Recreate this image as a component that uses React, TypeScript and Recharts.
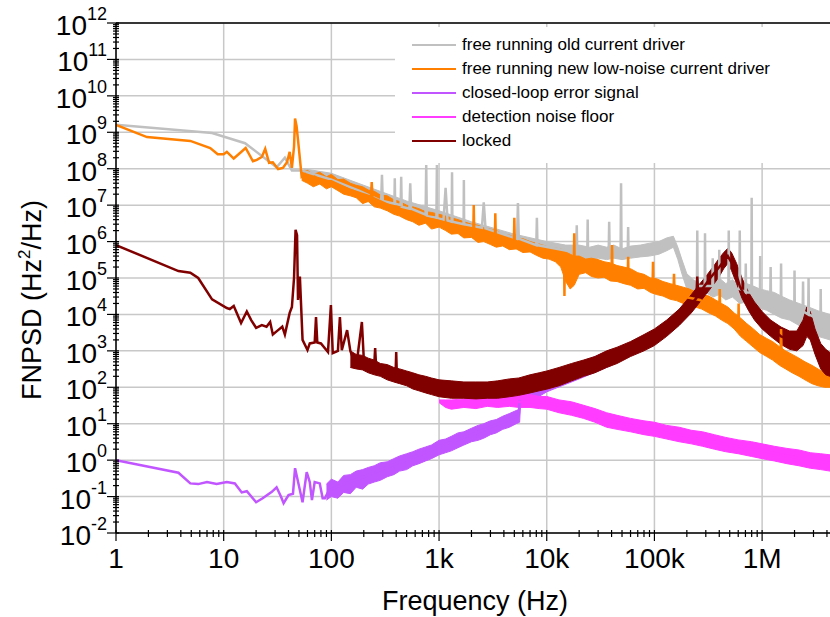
import { ComposedChart, Line, Area, XAxis, YAxis, CartesianGrid, ReferenceLine } from "recharts";

const FONT = "'Liberation Sans', Arial, sans-serif";

// axes
const X_MAX = 4.27e6;
const X_DECADES = [0, 1, 2, 3, 4, 5, 6];
const X_LABELS = ["1", "10", "100", "1k", "10k", "100k", "1M"];
const Y_DECADES = [-2, -1, 0, 1, 2, 3, 4, 5, 6, 7, 8, 9, 10, 11, 12];
const MINOR = [2, 3, 4, 5, 6, 7, 8, 9];

// [frequency, value] traces (clean part + spikes), and [frequency, low, high] noise bands
const GRAY_LINE = [
  [1, 1.6e9], [7.8, 9.5e8], [15.8, 5e8], [31, 1.1e8], [37, 2e8], [43, 9e7], [53, 9e7], [60, 8e7],
  [100, 5e7], [180, 2.5e7], [290, 1.3e7], [295, 6.8e7], [300, 1.3e7], [385, 1.1e7], [388, 5.5e7], [391, 1.1e7],
  [440, 1e7], [445, 6e7], [450, 9e6], [530, 8e6], [540, 4e7], [550, 8e6], [750, 5.5e6], [760, 1.26e8],
  [770, 5e6], [945, 4.5e6], [955, 1.26e8], [965, 4.4e6], [1100, 4e6], [1150, 3e7], [1200, 3.8e6],
  [1310, 3.5e6], [1320, 8e7], [1330, 3.5e6], [1690, 3e6], [1700, 4.9e7], [1710, 3e6], [2500, 2.4e6],
  [2600, 1.2e7], [2700, 2.3e6], [5300, 1.2e6], [5400, 1.15e7], [5500, 1.2e6], [8000, 8e5], [8100, 4.5e6],
  [8200, 8e5], [18800, 5e5], [19000, 2.8e6], [19200, 5e5], [23800, 5e5], [24000, 4e6], [24200, 5e5],
  [37600, 5e5], [38000, 3.5e6], [38400, 5e5], [48500, 5e5], [49000, 4e7], [49500, 5e5], [56500, 5e5],
  [57000, 2.5e6], [57500, 5e5], [100000, 6e5], [149000, 1.1e6], [170000, 4e5], [200000, 8e4],
  [248000, 6e4], [250000, 2e6], [252000, 6e4], [293000, 6e4], [295000, 1.7e6], [297000, 6e4],
  [345000, 6e4], [348000, 3.5e5], [351000, 6e4], [398000, 6e4], [400000, 6e5], [402000, 6e4],
  [486000, 5e4], [490000, 2e6], [494000, 5e4], [615000, 5e4], [620000, 2e6], [625000, 5e4],
  [700000, 4e4], [705000, 2.5e5], [710000, 4e4], [795000, 4e4], [800000, 1.6e7], [805000, 4e4],
  [955000, 3e4], [960000, 4e5], [965000, 3e4], [1190000, 2.5e4], [1200000, 2e5], [1210000, 2.5e4],
  [1490000, 2e4], [1500000, 2.5e5], [1510000, 2e4], [1990000, 1.5e4], [2000000, 1.6e5], [2010000, 1.5e4],
  [2380000, 1.2e4], [2400000, 8e4], [2420000, 1.2e4], [2680000, 1e4], [2700000, 1e5], [2720000, 1e4],
  [3480000, 7e3], [3500000, 5e4], [3520000, 7e3], [4270000, 5e3],
];
const GRAY_BAND = [
  [55, 5e7, 1e8], [100, 3.2e7, 7.5e7], [200, 1.4e7, 3.5e7], [500, 5e6, 1.3e7], [1000, 3e6, 7e6],
  [2000, 1.6e6, 3.5e6], [5000, 8e5, 1.6e6], [10000, 5e5, 1e6], [15000, 4e5, 8e5], [20000, 3.5e5, 8e5],
  [25000, 3.2e5, 7e5], [30000, 3.5e5, 8e5], [36000, 3.2e5, 7e5], [42000, 3.5e5, 8e5], [50000, 3.2e5, 6.3e5],
  [60000, 3.5e5, 7.5e5], [74000, 3.8e5, 8e5], [90000, 4e5, 9e5], [110000, 4.5e5, 1e6], [130000, 5.6e5, 1.26e6],
  [150000, 7e5, 1.4e6], [165000, 3.2e5, 7e5], [180000, 1.3e5, 3.2e5], [200000, 5e4, 1.3e5],
  [230000, 3.2e4, 9e4], [265000, 2.8e4, 7e4], [300000, 4e4, 1.1e5], [350000, 3e4, 8e4], [400000, 3.5e4, 1e5],
  [460000, 2.5e4, 7e4], [530000, 3e4, 9e4], [620000, 2e4, 6e4], [720000, 2.2e4, 7e4], [830000, 1.8e4, 6e4],
  [950000, 1.5e4, 5e4], [1100000, 1.3e4, 4.5e4], [1300000, 1e4, 4e4], [1500000, 8e3, 3.2e4],
  [1800000, 7e3, 2.5e4], [2200000, 5e3, 2e4], [2700000, 4e3, 1.6e4], [3300000, 2.5e3, 1.26e4],
  [4270000, 2e3, 1e4],
];

const ORANGE_LINE = [
  [1, 1.6e9], [1.94, 7.4e8], [4.9, 5.8e8], [7.5, 3.7e8], [8.8, 2.5e8], [10, 2.5e8], [10.7, 2.9e8],
  [12.4, 1.9e8], [16, 3.7e8], [18.7, 1.6e8], [20.3, 1.75e8], [22.6, 2.1e8], [24.3, 3.5e8], [26.4, 1.45e8],
  [28.6, 1.5e8], [32, 9.8e7], [35.5, 1.05e8], [38.7, 1.5e8], [41, 2.9e8], [43, 1.05e8], [45, 4e8],
  [46, 2.4e9], [47.5, 1.5e9], [49, 6.2e8], [53, 6e7], [57, 7e7], [62, 5e7], [70, 6e7], [80, 4.5e7],
  [100, 4.5e7], [150, 2.6e7], [233, 1.7e7], [237, 4.3e7], [241, 1.6e7], [400, 8e6], [700, 4.7e6],
  [1000, 3.7e6], [2080, 2e6], [2100, 1e7], [2120, 2e6], [3300, 1.4e6], [3330, 6e6], [3360, 1.4e6],
  [4950, 9e5], [5000, 4.5e6], [5050, 9e5], [10000, 5e5], [14500, 3e5], [14600, 3.2e4], [14700, 3e5],
  [16000, 1.6e5], [17800, 1.6e5], [18000, 1.7e6], [18200, 1.6e5], [31000, 1.8e5], [40000, 1.5e5],
  [40400, 8e5], [40800, 1.5e5], [56500, 1e5], [57000, 3.8e5], [57500, 1e5], [96000, 5.3e4],
  [97000, 2.8e5], [98000, 5.3e4], [150000, 3.5e4], [152000, 1.3e5], [154000, 3.5e4], [265000, 2.5e4],
  [400000, 1.2e4], [404000, 5e4], [408000, 1.2e4], [600000, 4.5e3], [605000, 2e4], [610000, 4.5e3],
  [1000000, 1.5e3], [1480000, 6.5e2], [1500000, 4e3], [1520000, 6.5e2], [4270000, 1.4e2],
];
const ORANGE_BAND = [
  [53, 4.8e7, 8.3e7], [60, 4e7, 9e7], [68, 3.2e7, 7e7], [78, 3.8e7, 8e7], [90, 2.8e7, 6e7],
  [100, 3.2e7, 7e7], [115, 2.5e7, 5e7], [130, 2e7, 5.2e7], [150, 1.8e7, 4e7], [170, 1.6e7, 3.5e7],
  [195, 1.1e7, 3.2e7], [220, 1.26e7, 2.6e7], [250, 9e6, 2.4e7], [285, 8.3e6, 1.9e7], [330, 7e6, 1.8e7],
  [380, 5.6e6, 1.4e7], [430, 5e6, 1.26e7], [500, 4e6, 1e7], [570, 3.5e6, 9e6], [650, 2.8e6, 8e6],
  [750, 3.2e6, 6.6e6], [850, 2.2e6, 6.3e6], [1000, 2.5e6, 5.6e6], [1150, 2e6, 5e6], [1300, 1.6e6, 4.5e6],
  [1500, 1.66e6, 4e6], [1700, 1.26e6, 3.5e6], [2000, 1.3e6, 3e6], [2300, 9.5e5, 2.8e6], [2600, 1e6, 2.4e6],
  [3000, 8.3e5, 2.2e6], [3400, 7e5, 2e6], [3900, 7.6e5, 1.6e6], [4500, 6e5, 1.5e6], [5200, 6.3e5, 1.26e6],
  [6000, 5e5, 1.2e6], [7000, 5.2e5, 1e6], [8000, 4.2e5, 9e5], [9200, 3.5e5, 8e5], [10500, 3.3e5, 7e5],
  [12000, 2.8e5, 6.6e5], [13500, 2e5, 6.3e5], [15000, 8e4, 5.2e5], [16500, 5e4, 4.5e5], [18000, 6.3e4, 4e5],
  [20000, 1.26e5, 4e5], [23000, 1.4e5, 3.3e5], [26000, 1.1e5, 3.5e5], [30000, 1e5, 3.2e5],
  [34000, 1.05e5, 2.8e5], [39000, 8.3e4, 2.6e5], [45000, 8e4, 2.2e5], [52000, 7e4, 2e5], [60000, 6.3e4, 1.8e5],
  [70000, 5e4, 1.4e5], [80000, 5.2e4, 1.26e5], [92000, 4e4, 1e5], [105000, 3.5e4, 9.5e4], [120000, 3.2e4, 8e4],
  [140000, 2.6e4, 7e4], [160000, 2.4e4, 6.3e4], [185000, 2e4, 5.6e4], [210000, 1.8e4, 5e4],
  [240000, 1.6e4, 4.2e4], [275000, 1.4e4, 3.5e4], [320000, 1.1e4, 3.2e4], [370000, 9e3, 2.5e4],
  [420000, 7e3, 2e4], [480000, 5.6e3, 1.6e4], [550000, 4e3, 1.1e4], [630000, 2.5e3, 8e3], [720000, 1.8e3, 5.6e3],
  [830000, 1.26e3, 4e3], [950000, 9e2, 2.8e3], [1100000, 7e2, 2.2e3], [1250000, 5.6e2, 1.8e3],
  [1450000, 4e2, 1.3e3], [1650000, 3.2e2, 1e3], [1900000, 2.5e2, 8e2], [2200000, 2e2, 6.3e2],
  [2500000, 1.6e2, 5e2], [2900000, 1.26e2, 4e2], [3300000, 1.1e2, 3.2e2], [3800000, 1e2, 2.5e2],
  [4270000, 1e2, 2e2],
];

const PURPLE_LINE = [
  [1, 1], [3.8, 0.45], [4.9, 0.23], [5.8, 0.22], [7, 0.25], [8.6, 0.22], [10.7, 0.25], [12.7, 0.23],
  [14.7, 0.13], [16.4, 0.14], [20, 0.07], [23, 0.09], [28, 0.135], [31, 0.18], [34, 0.1], [36, 0.066],
  [40, 0.11], [44, 0.12], [46, 0.6], [48, 0.34], [54, 0.07], [59, 0.47], [63, 0.25], [66, 0.08],
  [70, 0.25], [78, 0.23], [83, 0.09], [87, 0.09], [95, 0.15], [120, 0.2], [200, 0.35], [400, 0.8],
  [700, 1.5], [1000, 2.4], [2000, 5], [3000, 8], [5000, 15], [5500, 17], [5600, 45],
];
const PURPLE_BAND = [
  [90, 0.08, 0.22], [100, 0.1, 0.3], [115, 0.09, 0.25], [130, 0.13, 0.38], [150, 0.12, 0.4],
  [170, 0.18, 0.5], [195, 0.16, 0.55], [220, 0.22, 0.63], [250, 0.25, 0.7], [285, 0.28, 0.85],
  [330, 0.35, 0.9], [380, 0.4, 1.1], [430, 0.5, 1.3], [500, 0.55, 1.5], [570, 0.7, 1.7], [650, 0.8, 2],
  [750, 0.95, 2.3], [850, 1.1, 2.6], [1000, 1.4, 3.5], [1150, 1.6, 3.8], [1300, 1.8, 4.5], [1500, 2.2, 5.6],
  [1700, 2.6, 6], [2000, 3.2, 7.5], [2300, 3.5, 9], [2600, 4, 10], [3000, 5, 12], [3400, 5.6, 13],
  [3900, 7, 16], [4500, 8, 19], [5200, 10, 23], [5600, 11, 25], [5700, 32, 70], [7000, 40, 89],
  [10000, 75, 200], [20000, 170, 450], [40000, 400, 1.1e3],
];

const MAGENTA_LINE = [
  [1100, 38], [3000, 38], [5000, 40], [10000, 38], [20000, 24], [36000, 12], [100000, 7],
  [200000, 4.5], [500000, 2.6], [1000000, 1.8], [2000000, 1.2], [4270000, 0.85],
];
const MAGENTA_BAND = [
  [1000, 38, 45], [1150, 28, 45], [1300, 25, 45], [1700, 28, 48], [2200, 26, 50], [2800, 30, 50],
  [3500, 28, 55], [4500, 30, 56], [5500, 28, 60], [7000, 28, 63], [8500, 26, 56], [10000, 25, 56],
  [13000, 20, 45], [17000, 17, 40], [22000, 14, 32], [28000, 11, 26], [36000, 8, 20], [45000, 7, 17],
  [60000, 6, 14], [80000, 5, 12], [100000, 4.5, 11], [130000, 3.8, 9], [170000, 3.2, 8], [220000, 2.8, 6.6],
  [280000, 2.4, 6], [360000, 2, 5], [460000, 1.7, 4.2], [600000, 1.5, 3.6], [800000, 1.26, 3.2],
  [1000000, 1.1, 2.8], [1300000, 0.95, 2.4], [1700000, 0.8, 2.1], [2200000, 0.7, 1.9], [2800000, 0.6, 1.6],
  [3500000, 0.55, 1.5], [4270000, 0.5, 1.4],
];

const LOCKED_LINE = [
  [1, 8e5], [3.8, 1.55e5], [4.9, 1.4e5], [5.8, 1e5], [7.8, 2.6e4], [10.7, 1.5e4], [11.4, 1.4e4],
  [12.4, 1.7e4], [14.5, 5.8e3], [16.4, 1.2e4], [18, 7e3], [20, 4.3e3], [22.6, 5.1e3], [25, 4.6e3],
  [27, 6.2e3], [28.6, 2.8e3], [32, 3.7e3], [35, 4.6e3], [37, 2.8e3], [41, 1.1e4], [43, 1.6e4], [45, 1e5],
  [46.5, 2.1e6], [48, 1.5e6], [49, 2.5e4], [51, 1.1e5], [54, 2e3], [60, 1.05e3], [63, 1.6e3], [70, 1.7e3],
  [72, 8.5e3], [74, 1.7e3], [80, 1.6e3], [93, 9.3e2], [99, 1.8e4], [103, 8.7e2], [115, 1e3], [120, 8.5e3],
  [125, 1.05e3], [140, 3.7e3], [150, 1e3], [170, 3.6e2], [192, 6.2e3], [200, 6e2], [250, 4e2],
  [255, 1.2e3], [260, 4e2], [300, 3e2], [395, 2.5e2], [400, 9.3e2], [405, 2.5e2], [700, 1.2e2],
  [1000, 90], [2000, 80], [3000, 80], [5000, 1e2], [10000, 1.6e2], [20000, 3.2e2], [40000, 7e2],
  [70000, 1.5e3], [100000, 2.4e3], [150000, 6e3], [200000, 1.4e4], [245000, 2.8e4], [250000, 1.1e5],
  [255000, 3.5e4], [330000, 1e5], [400000, 2e5], [480000, 4e5], [550000, 2e5], [620000, 6e4],
  [800000, 1.3e4], [1000000, 7e3], [1500000, 2.5e3], [2000000, 1.8e3], [2600000, 7e3], [3000000, 3e3],
  [3500000, 8e2], [4270000, 4e2],
];
const LOCKED_BAND = [
  [150, 3.5e2, 1e3], [170, 3.2e2, 8e2], [195, 3e2, 7.5e2], [220, 2.5e2, 6.3e2], [250, 2.2e2, 5.6e2],
  [285, 2e2, 4.5e2], [330, 1.6e2, 4.2e2], [380, 1.4e2, 3.5e2], [430, 1.26e2, 3.2e2], [500, 1.1e2, 2.8e2],
  [570, 90, 2.5e2], [650, 80, 2.2e2], [750, 70, 2e2], [850, 63, 1.8e2], [1000, 55, 1.6e2], [1300, 50, 1.5e2],
  [1700, 50, 1.4e2], [2200, 48, 1.4e2], [2800, 50, 1.4e2], [3500, 50, 1.5e2], [4500, 55, 1.7e2],
  [5500, 60, 1.8e2], [7000, 70, 2.2e2], [8500, 80, 2.5e2], [10000, 89, 2.8e2], [13000, 1.1e2, 3.5e2],
  [17000, 1.5e2, 4.5e2], [22000, 2e2, 5.6e2], [28000, 2.5e2, 7e2], [36000, 3.5e2, 1e3], [45000, 4.5e2, 1.26e3],
  [60000, 7e2, 1.8e3], [80000, 1e3, 2.8e3], [100000, 1.4e3, 4e3], [130000, 2.5e3, 7e3], [170000, 5e3, 1.4e4],
  [220000, 1.1e4, 3.5e4], [265000, 2.2e4, 7e4], [300000, 3.5e4, 1.1e5], [350000, 6.3e4, 2e5],
  [400000, 1.1e5, 3.5e5], [440000, 1.8e5, 5e5], [480000, 2.5e5, 6.5e5], [520000, 1.6e5, 5e5],
  [580000, 7e4, 2.5e5], [650000, 2.8e4, 1e5], [750000, 1.26e4, 4e4], [850000, 7e3, 2.2e4],
  [1000000, 4e3, 1.2e4], [1200000, 2.5e3, 7e3], [1500000, 1.5e3, 4.5e3], [1800000, 1.1e3, 3.5e3],
  [2100000, 1e3, 3.5e3], [2400000, 1.4e3, 7e3], [2600000, 2.5e3, 1.6e4], [2800000, 2e3, 1.2e4],
  [3100000, 8e2, 4e3], [3500000, 3.2e2, 1.6e3], [3900000, 2.2e2, 1.1e3], [4270000, 2e2, 9e2],
];

const SERIES = [
  { key: "old", label: "free running old current driver", color: "#c0c0c0", line: GRAY_LINE, band: GRAY_BAND },
  { key: "new", label: "free running new low-noise current driver", color: "#ff8000", line: ORANGE_LINE, band: ORANGE_BAND },
  { key: "err", label: "closed-loop error signal", color: "#c155ff", line: PURPLE_LINE, band: PURPLE_BAND },
  { key: "det", label: "detection noise floor", color: "#ff3cff", line: MAGENTA_LINE, band: MAGENTA_BAND },
  { key: "lock", label: "locked", color: "#800000", line: LOCKED_LINE, band: LOCKED_BAND },
];

const X_TICKS: number[] = [];
X_DECADES.forEach((d) => {
  X_TICKS.push(10 ** d);
  MINOR.forEach((m) => m * 10 ** d <= X_MAX && X_TICKS.push(m * 10 ** d));
});
const Y_TICKS: number[] = [];
Y_DECADES.forEach((d) => {
  Y_TICKS.push(10 ** d);
  if (d < 12) MINOR.forEach((m) => Y_TICKS.push(m * 10 ** d));
});

const isMajor = (v: number) => Math.abs(Math.log10(v) - Math.round(Math.log10(v))) < 1e-6;

const scaleOf = (axis: any) => {
  const s = axis?.scale;
  if (typeof s === "function") return (v: number) => s(v);
  if (s && typeof s.map === "function") return (v: number) => s.map(v);
  return () => 0;
};

function YTick({ x, y, payload }: any) {
  const v = payload.value;
  const major = isMajor(v);
  return (
    <g>
      <line x1={x - (major ? 9 : 3)} x2={x + 3} y1={y} y2={y} stroke="#000" strokeWidth={1.2} />
      {major && (
        <text x={x - 9} y={y + 12} textAnchor="end" fontFamily={FONT} fontSize={28} fill="#000">
          10
          <tspan dy={-15} fontSize={18}>{Math.round(Math.log10(v))}</tspan>
        </text>
      )}
    </g>
  );
}

function XTick({ x, y, payload }: any) {
  const v = payload.value;
  const major = isMajor(v);
  const idx = X_DECADES.indexOf(Math.round(Math.log10(v)));
  return (
    <g>
      <line x1={x} x2={x} y1={y - 3} y2={y + (major ? 8 : 4)} stroke="#000" strokeWidth={1.2} />
      {major && (
        <text x={x} y={y + 35} textAnchor="middle" fontFamily={FONT} fontSize={28} fill="#000">
          {X_LABELS[idx]}
        </text>
      )}
    </g>
  );
}

export default function App() {
  return (
    <div style={{ position: "relative", width: 830, height: 617, background: "#fff" }}>
      <style>{"body{margin:0}"}</style>
      <ComposedChart width={830} height={617} margin={{ top: 23, right: 0, bottom: 0, left: 0 }}>
        <CartesianGrid
          stroke="#c8c8c8"
          strokeWidth={1.5}
          horizontalCoordinatesGenerator={({ yAxis }: any) => Y_DECADES.map((d) => scaleOf(yAxis)(10 ** d))}
          verticalCoordinatesGenerator={({ xAxis }: any) => X_DECADES.map((d) => scaleOf(xAxis)(10 ** d))}
        />
        <XAxis
          dataKey="f"
          type="number"
          scale="log"
          domain={[1, X_MAX]}
          allowDataOverflow
          ticks={X_TICKS}
          interval={0}
          tick={<XTick />}
          tickLine={false}
          tickSize={0}
          tickMargin={0}
          height={84}
          axisLine={{ stroke: "#000", strokeWidth: 1.5 }}
        />
        <YAxis
          type="number"
          scale="log"
          domain={[1e-2, 1e12]}
          allowDataOverflow
          ticks={Y_TICKS}
          interval={0}
          tick={<YTick />}
          tickLine={false}
          tickSize={0}
          tickMargin={0}
          width={116}
          axisLine={{ stroke: "#000", strokeWidth: 1.5 }}
        />
        <ReferenceLine y={1e12} stroke="#000" strokeWidth={1.5} />
        {SERIES.flatMap((s) => [
          <Area
            key={s.key + "-band"}
            data={s.band.map(([f, lo, hi]) => ({ f, r: [lo, hi] }))}
            dataKey="r"
            type="linear"
            stroke={s.color}
            strokeWidth={1}
            fill={s.color}
            fillOpacity={1}
            dot={false}
            activeDot={false}
            isAnimationActive={false}
          />,
          <Line
            key={s.key + "-line"}
            data={s.line.map(([f, v]) => ({ f, v }))}
            dataKey="v"
            type="linear"
            stroke={s.color}
            strokeWidth={2.5}
            dot={false}
            activeDot={false}
            isAnimationActive={false}
          />,
        ])}
      </ComposedChart>
      <svg width={830} height={617} style={{ position: "absolute", left: 0, top: 0, pointerEvents: "none" }}>
        <text x={475} y={610} textAnchor="middle" fontFamily={FONT} fontSize={27} fill="#000">
          Frequency (Hz)
        </text>
        <text
          x={41}
          y={300}
          transform="rotate(-90, 41, 300)"
          textAnchor="middle"
          fontFamily={FONT}
          fontSize={27}
          fill="#000"
        >
          FNPSD (Hz<tspan dy={-11} fontSize={17}>2</tspan>
          <tspan dy={11}>/Hz)</tspan>
        </text>
      </svg>
      <div
        style={{
          position: "absolute",
          left: 395,
          top: 27,
          width: 435,
          height: 136,
          background: "#fff",
          fontFamily: FONT,
          fontSize: 17,
          color: "#000",
        }}
      >
        {SERIES.map((s, i) => (
          <div
            key={s.key}
            style={{ position: "absolute", left: 17, top: 6 + i * 24, height: 24, display: "flex", alignItems: "center", whiteSpace: "nowrap" }}
          >
            <span style={{ display: "inline-block", width: 44, height: 2.5, background: s.color }} />
            <span style={{ marginLeft: 6 }}>{s.label}</span>
          </div>
        ))}
      </div>
    </div>
  );
}
